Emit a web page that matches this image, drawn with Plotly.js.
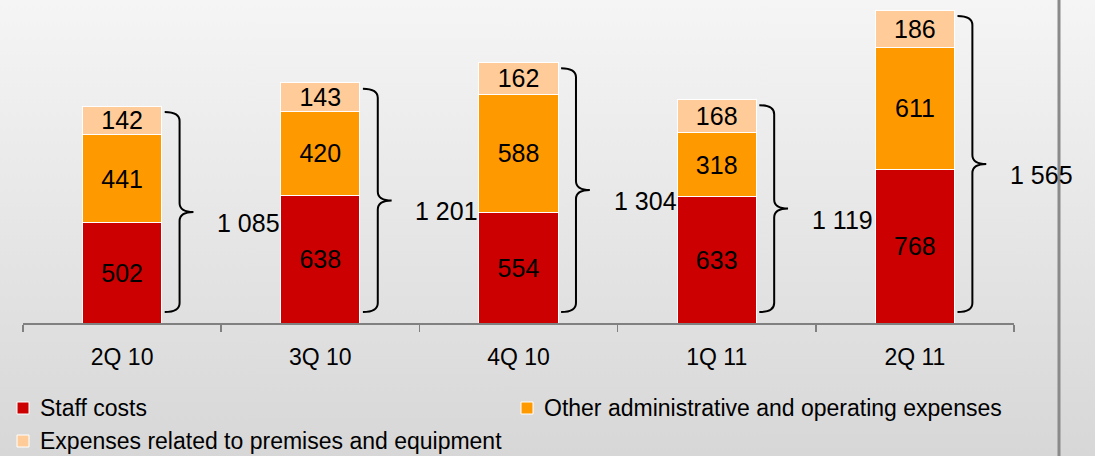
<!DOCTYPE html>
<html>
<head>
<meta charset="utf-8">
<script src="https://cdn.plot.ly/plotly-3.0.1.min.js"></script>
<style>
  html, body { margin: 0; padding: 0; }
  body { width: 1095px; height: 456px; background: linear-gradient(#f5f5f5, #d7d7d7); overflow: hidden; }
  #chart { width: 1095px; height: 456px; }
</style>
</head>
<body>
<div id="chart"></div>
<script>
// ---- data ----
const categories = ["2Q 10", "3Q 10", "4Q 10", "1Q 11", "2Q 11"];
const staffCosts = [502, 638, 554, 633, 768];
const otherAdmin = [441, 420, 588, 318, 611];
const premises = [142, 143, 162, 168, 186];
const seriesNames = ["Staff costs", "Other administrative and operating expenses", "Expenses related to premises and equipment"];

// ---- derived ----
const totals = categories.map((c, i) => staffCosts[i] + otherAdmin[i] + premises[i]);
function fmt(v) { return String(v).replace(/\B(?=(\d{3})+(?!\d))/g, " "); }

const FONT = '"Liberation Sans", Arial, sans-serif';
const colors = ["#CC0000", "#FF9900", "#FFCC99"];
const seriesVals = [staffCosts, otherAdmin, premises];

const W = 1095, H = 456;
const M = { l: 23, r: 81, t: 3, b: 133 };
const PW = W - M.l - M.r, PH = H - M.t - M.b;
const px2x = px => (px - M.l) / PW;
const py2y = py => (H - M.b - py) / PH;

const traces = seriesVals.map((vals, k) => ({
  type: "bar",
  name: seriesNames[k],
  x: categories,
  y: vals,
  width: 0.4,
  marker: { color: colors[k], line: { color: "#ffffff", width: 1 } },
  text: vals.map(String),
  textposition: "inside",
  insidetextanchor: "middle",
  constraintext: "none",
  textfont: { family: FONT, size: 25, color: "#000000" },
  hoverinfo: "skip",
  showlegend: false
}));

// braces and total labels (overlay numeric axis aligned with categories)
const shapes = [];
const annotations = [];
const dEnd = 0.215, dVert = 0.29, dTip = 0.36, r = 45;
totals.forEach((t, i) => {
  const T = t - 30, B = 55, Mid = (T + B) / 2;
  const x0 = i + dEnd, xv = i + dVert, xt = i + dTip;
  const p = `M${x0},${T} Q${xv},${T} ${xv},${T - r} L${xv},${Mid + r} Q${xv},${Mid} ${xt},${Mid} ` +
            `Q${xv},${Mid} ${xv},${Mid - r} L${xv},${B + r} Q${xv},${B} ${x0},${B}`;
  shapes.push({ type: "path", xref: "x2", yref: "y", path: p, line: { color: "#000000", width: 2 } });
  annotations.push({
    xref: "x2", yref: "y", x: xt + 0.11, y: Mid - 55, xanchor: "left", yanchor: "middle",
    text: fmt(t), showarrow: false, font: { family: FONT, size: 25, color: "#000000" }
  });
});

// right gray vertical rule
shapes.push({ type: "line", xref: "paper", yref: "paper", x0: px2x(1059), x1: px2x(1059), y0: -2, y1: 2,
  line: { color: "#8a8a8a", width: 3 } });

// manual legend (two columns)
const legendPos = [[23, 408], [527, 408], [23, 441]];
seriesNames.forEach((name, k) => {
  const [cx, cy] = legendPos[k];
  shapes.push({ type: "rect", xref: "paper", yref: "paper",
    x0: px2x(cx - 6), x1: px2x(cx + 6), y0: py2y(cy + 6), y1: py2y(cy - 6),
    fillcolor: colors[k], line: { color: "#ffffff", width: 1 } });
  annotations.push({ xref: "paper", yref: "paper", x: px2x(cx + 15), y: py2y(cy),
    xanchor: "left", yanchor: "middle", showarrow: false, text: name,
    font: { family: FONT, size: 23, color: "#000000" } });
});

// invisible trace to activate overlay axis
traces.push({ type: "scatter", x: [-0.5, 4.5], y: [0, 0], xaxis: "x2", yaxis: "y",
  mode: "none", showlegend: false, hoverinfo: "skip" });

const layout = {
  width: W, height: H,
  margin: M,
  paper_bgcolor: "rgba(0,0,0,0)",
  plot_bgcolor: "rgba(0,0,0,0)",
  barmode: "stack",
  bargap: 0.6,
  font: { family: FONT, color: "#000000" },
  xaxis: {
    type: "category",
    tickson: "boundaries",
    ticks: "outside", ticklen: 7, tickwidth: 1.5, tickcolor: "#808080",
    showline: true, linecolor: "#808080", linewidth: 2,
    showgrid: false, zeroline: false,
    tickfont: { family: FONT, size: 23, color: "#000000" },
    ticklabelstandoff: 12
  },
  xaxis2: { overlaying: "x", type: "linear", range: [-0.5, 4.5], visible: false },
  yaxis: { range: [0, 1600], visible: false, showgrid: false, zeroline: false },
  showlegend: false,
  shapes: shapes,
  annotations: annotations
};

Plotly.newPlot("chart", traces, layout, { displayModeBar: false, staticPlot: true });
</script>
</body>
</html>
